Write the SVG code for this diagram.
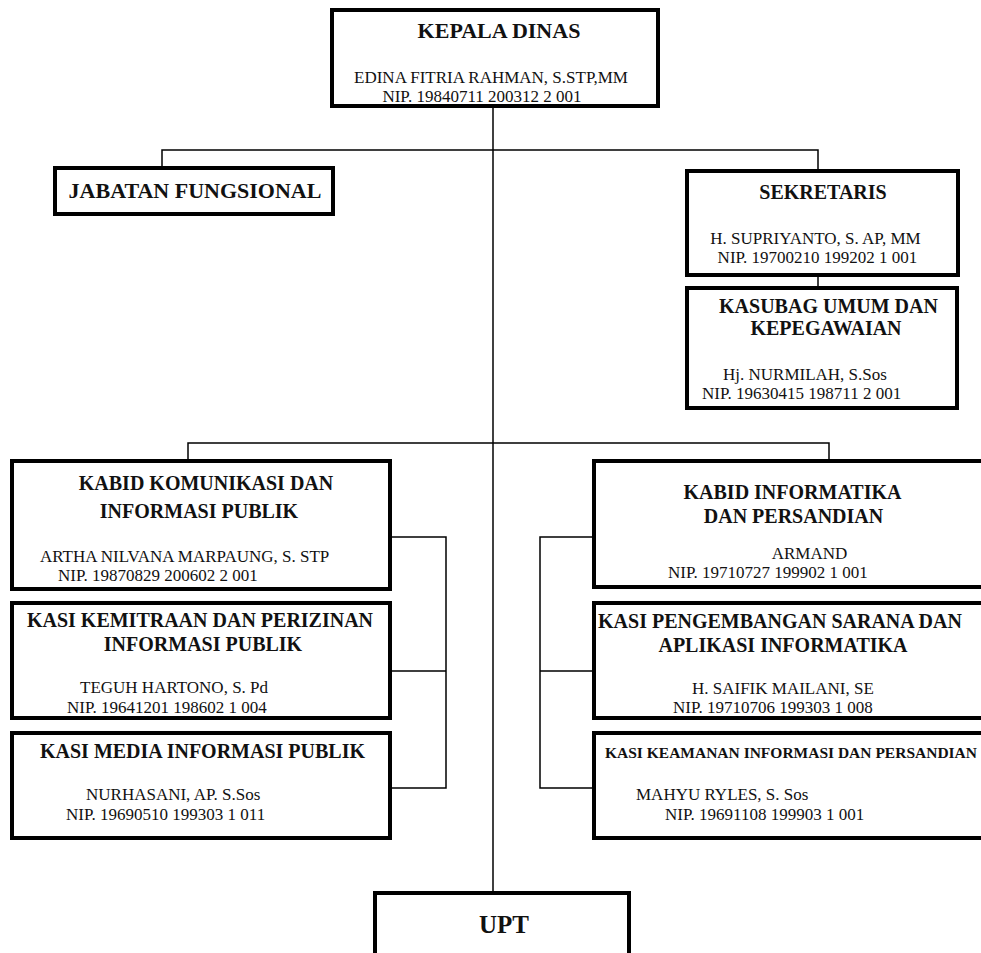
<svg xmlns="http://www.w3.org/2000/svg" width="981" height="953" viewBox="0 0 981 953">
<style>
.box{fill:#fff;stroke:#000;stroke-width:4}
.ln{fill:none;stroke:#000;stroke-width:1.5}
text{font-family:"Liberation Serif","Times New Roman",serif;fill:#111}
.t{font-weight:bold;font-size:20px}
.n{font-size:17px}
.m{text-anchor:middle}
</style>
<rect width="981" height="953" fill="#fff"/>
<g id="connectors">
<path class="ln" d="M493 106V893"/>
<path class="ln" d="M162 168V150H818V171"/>
<path class="ln" d="M818 275V288"/>
<path class="ln" d="M188 461V443H829V461"/>
<path class="ln" d="M390 537H446V788H390M390 671H446"/>
<path class="ln" d="M594 537H540V788H594M594 671H540"/>
</g>
<g id="kepala-dinas">
<rect class="box" x="332" y="10" width="326" height="96"/>
<text class="t m" style="font-size:22px" x="499" y="38">KEPALA DINAS</text>
<text class="n m" x="491" y="83">EDINA FITRIA RAHMAN, S.STP,MM</text>
<text class="n m" x="482" y="102">NIP. 19840711 200312 2 001</text>
</g>
<g id="jabatan-fungsional">
<rect class="box" x="55" y="168" width="278" height="46"/>
<text class="t m" style="font-size:22px" x="195" y="198">JABATAN FUNGSIONAL</text>
</g>
<g id="sekretaris">
<rect class="box" x="687" y="171" width="271" height="104"/>
<text class="t m" x="823" y="199">SEKRETARIS</text>
<text class="n m" x="815.5" y="244">H. SUPRIYANTO, S. AP, MM</text>
<text class="n m" x="817.5" y="263">NIP. 19700210 199202 1 001</text>
</g>
<g id="kasubag">
<rect class="box" x="687" y="288" width="270" height="120"/>
<text class="t m" x="828.5" y="313">KASUBAG UMUM DAN</text>
<text class="t m" x="826" y="335">KEPEGAWAIAN</text>
<text class="n" x="723" y="380">Hj. NURMILAH, S.Sos</text>
<text class="n" x="702" y="399">NIP. 19630415 198711 2 001</text>
</g>
<g id="kabid-komunikasi">
<rect class="box" x="12" y="461" width="378" height="128"/>
<text class="t m" x="206" y="490">KABID KOMUNIKASI DAN</text>
<text class="t m" x="199" y="518">INFORMASI PUBLIK</text>
<text class="n" x="40" y="562">ARTHA NILVANA MARPAUNG, S. STP</text>
<text class="n" x="58" y="581">NIP. 19870829 200602 2 001</text>
</g>
<g id="kasi-kemitraan">
<rect class="box" x="12" y="603" width="378" height="115"/>
<text class="t m" x="200" y="627">KASI KEMITRAAN DAN PERIZINAN</text>
<text class="t m" x="203" y="651">INFORMASI PUBLIK</text>
<text class="n" x="80" y="693">TEGUH HARTONO, S. Pd</text>
<text class="n" x="67" y="713">NIP. 19641201 198602 1 004</text>
</g>
<g id="kasi-media">
<rect class="box" x="12" y="733" width="378" height="105"/>
<text class="t m" x="202.5" y="758">KASI MEDIA INFORMASI PUBLIK</text>
<text class="n" x="86" y="800">NURHASANI, AP. S.Sos</text>
<text class="n" x="66" y="820">NIP. 19690510 199303 1 011</text>
</g>
<g id="kabid-informatika">
<rect class="box" x="594" y="461" width="400" height="126"/>
<text class="t m" x="792.5" y="499">KABID INFORMATIKA</text>
<text class="t m" x="793.5" y="523">DAN PERSANDIAN</text>
<text class="n m" x="809.5" y="559">ARMAND</text>
<text class="n" x="668" y="578">NIP. 19710727 199902 1 001</text>
</g>
<g id="kasi-pengembangan">
<rect class="box" x="594" y="603" width="400" height="115"/>
<text class="t m" x="780" y="628">KASI PENGEMBANGAN SARANA DAN</text>
<text class="t m" x="783" y="652">APLIKASI INFORMATIKA</text>
<text class="n" x="692" y="694">H. SAIFIK MAILANI, SE</text>
<text class="n" x="673" y="713">NIP. 19710706 199303 1 008</text>
</g>
<g id="kasi-keamanan">
<rect class="box" x="594" y="733" width="400" height="105"/>
<text class="t m" style="font-size:15.5px" x="791" y="758">KASI KEAMANAN INFORMASI DAN PERSANDIAN</text>
<text class="n" x="636" y="800">MAHYU RYLES, S. Sos</text>
<text class="n" x="665" y="820">NIP. 19691108 199903 1 001</text>
</g>
<g id="upt">
<rect class="box" x="375" y="893" width="254" height="80"/>
<text class="t m" style="font-size:25px" x="504" y="933">UPT</text>
</g>
</svg>
